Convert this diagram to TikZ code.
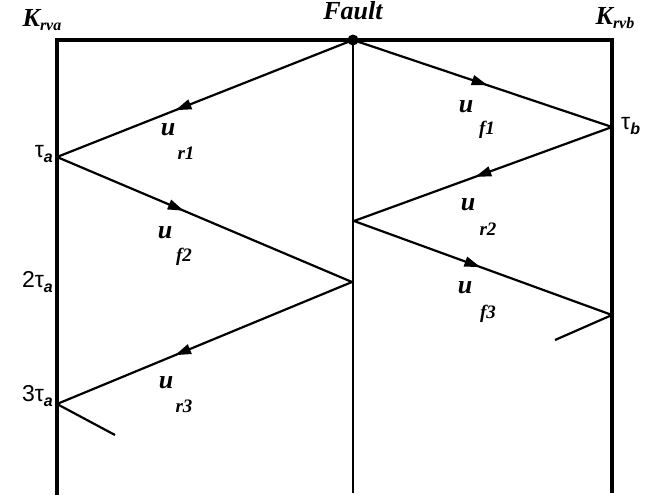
\documentclass[tikz,border=0pt]{standalone}
\usepackage{fontspec}
\setmainfont{Liberation Serif}
\newfontfamily\sansf{Liberation Sans}
\usetikzlibrary{arrows.meta,decorations.markings}
\tikzset{
  frame/.style={line width=3.3pt},
  midline/.style={line width=1.8pt},
  wave/.style={line width=2.2pt},
  arr/.style={postaction={decorate},decoration={markings,mark=at position #1 with {\arrow{Triangle[length=16pt,width=10pt]}}}},
  lbl/.style={font=\fontsize{26}{28}\selectfont\bfseries\itshape,inner sep=0pt},
  sub/.style={font=\fontsize{19}{21}\selectfont\bfseries\itshape,inner sep=0pt},
  tau/.style={font=\fontsize{23}{25}\selectfont\sansf,inner sep=0pt}
}
\begin{document}
\begin{tikzpicture}[x=1pt,y=-1pt]
\useasboundingbox (0,0) rectangle (654,498);
% key points
\coordinate (TL) at (57,40);
\coordinate (TR) at (612,40);
\coordinate (F) at (353,40);
\coordinate (BL) at (57,495);
\coordinate (BM) at (353,493);
\coordinate (BR) at (612,493);
\coordinate (A1) at (57,157);
\coordinate (M1) at (352,282);
\coordinate (A3) at (57,404);
\coordinate (SL) at (115,435);
\coordinate (B1) at (612,127);
\coordinate (M2) at (354,221);
\coordinate (B2) at (612,315);
\coordinate (SR) at (555,340);
% frame
\draw[frame] (BL) -- (TL) -- (TR) -- (BR);
\draw[midline] (F) -- (BM);
\fill (F) circle (5.5pt);
% waves
\draw[wave,arr=0.6] (F) -- (A1);
\draw[wave,arr=0.43] (A1) -- (M1);
\draw[wave,arr=0.6] (M1) -- (A3);
\draw[wave] (A3) -- (SL);
\draw[wave,arr=0.52] (F) -- (B1);
\draw[wave,arr=0.53] (B1) -- (M2);
\draw[wave,arr=0.49] (M2) -- (B2);
\draw[wave] (B2) -- (SR);
% top labels
\node[lbl] (kra) at (42,20) {K\raisebox{-0.3ex}{\fontsize{16}{18}\selectfont rva}};
\node[lbl] (flt) at (353,11) {Fault};
\node[lbl] (krb) at (615,18) {K\raisebox{-0.3ex}{\fontsize{16}{18}\selectfont rvb}};
% time labels
\node[tau,anchor=east] (t1) at (53,154) {τ\raisebox{-0.4ex}{\fontsize{16}{17}\selectfont\bfseries\itshape a}};
\node[tau,anchor=east] (t2) at (53,282) {2τ\raisebox{-0.4ex}{\fontsize{16}{17}\selectfont\bfseries\itshape a}};
\node[tau,anchor=east] (t3) at (53,396) {3τ\raisebox{-0.4ex}{\fontsize{16}{17}\selectfont\bfseries\itshape a}};
\node[tau,anchor=west] (tb) at (621,126) {τ\raisebox{-0.4ex}{\fontsize{16}{17}\selectfont\bfseries\itshape b}};
% wave labels
\node[lbl] (u1) at (168,130) {u};
\node[sub] (s1) at (186,153) {r1};
\node[lbl] (u2) at (165,233) {u};
\node[sub] (s2) at (184,257) {f2};
\node[lbl] (u3) at (166,383) {u};
\node[sub] (s3) at (184,406) {r3};
\node[lbl] (u4) at (466,107) {u};
\node[sub] (s4) at (487,130) {f1};
\node[lbl] (u5) at (468,205) {u};
\node[sub] (s5) at (488,229) {r2};
\node[lbl] (u6) at (465,288) {u};
\node[sub] (s6) at (488,314) {f3};
\end{tikzpicture}
\end{document}
